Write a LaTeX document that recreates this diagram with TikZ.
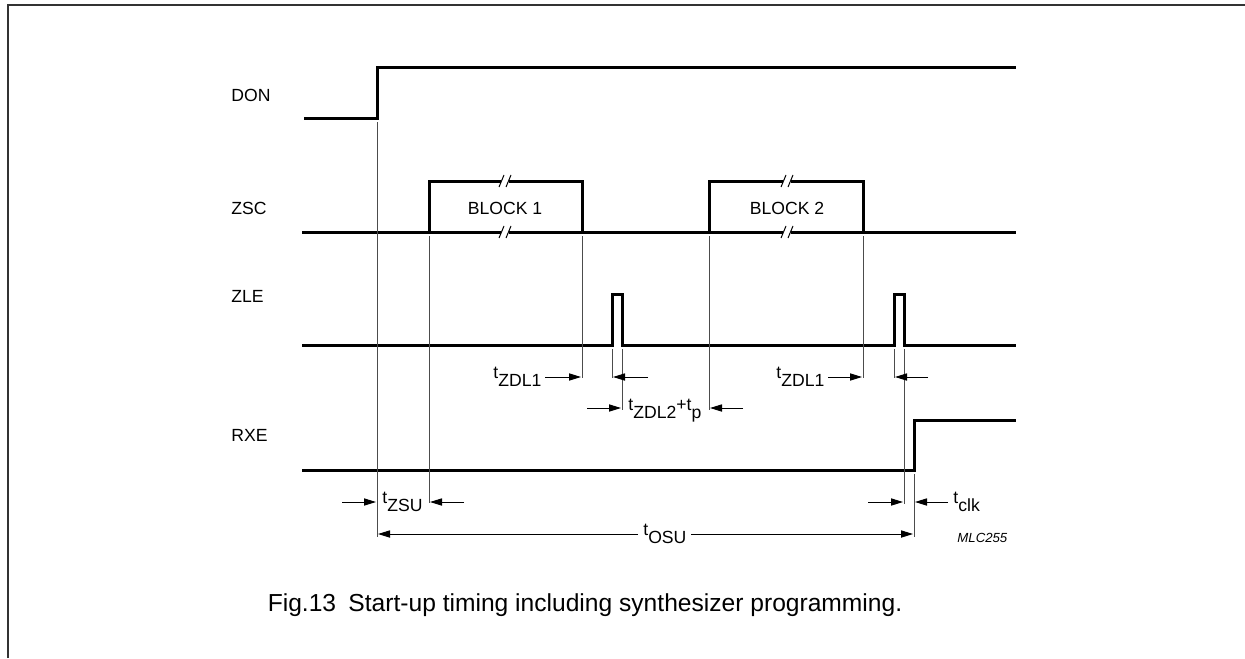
\documentclass[tikz,border=0pt]{standalone}
\usepackage{fontspec}
\setmainfont{Liberation Sans}
\usetikzlibrary{arrows.meta}
\tikzset{
  sig/.style={line width=1.5pt,line join=miter},
  guide/.style={line width=0.5pt,black!70},
  dimarrow/.style={line width=0.5pt,-{Triangle[length=6pt,width=3.6pt]}},
  lbl/.style={font=\fontsize{8.8}{10}\selectfont,inner sep=0pt},
}
\newcommand{\tsym}[1]{t\raisebox{-0.5em}{#1}}
\newcommand{\brk}[2]{%
  \fill[white] (#1-4,#2-1.6) rectangle (#1+4,#2+1.6);
  \draw[line width=0.5pt] (#1-6,#2+6) -- (#1-1,#2-6) (#1+1,#2+6) -- (#1+6,#2-6);}
\begin{document}
\begin{tikzpicture}[x=0.5pt,y=-0.5pt]
\useasboundingbox (0,0) rectangle (1245,658);
\draw[line width=1pt,black!80] (8,658) -- (8,5) -- (1245,5);
% signal names
\node[lbl,anchor=west] (nDON) at (231,95) {DON};
\node[lbl,anchor=west] (nZSC) at (231,208) {ZSC};
\node[lbl,anchor=west] (nZLE) at (231,296) {ZLE};
\node[lbl,anchor=west] (nRXE) at (231,435) {RXE};
% waveforms
\draw[sig] (304,118) -- (377,118) -- (377,68) -- (1016,68);
\draw[sig] (302,232) -- (1016,232);
\draw[sig] (429,232) -- (429,181) -- (582,181) -- (582,232);
\draw[sig] (709,232) -- (709,181) -- (863,181) -- (863,232);
\brk{505}{181} \brk{505}{232} \brk{787}{181} \brk{787}{232}
\node[lbl] (blk1) at (505,208) {BLOCK 1};
\node[lbl] (blk2) at (787,208) {BLOCK 2};
\draw[sig] (302,345) -- (612,345) -- (612,294) -- (622,294) -- (622,345)
 -- (894,345) -- (894,294) -- (904,294) -- (904,345) -- (1016,345);
\draw[sig] (302,470) -- (914,470) -- (914,420) -- (1016,420);
% edge guides
\draw[guide] (377,122) -- (377,537);
\draw[guide] (429,236) -- (429,503);
\draw[guide] (582,236) -- (582,378);
\draw[guide] (709,236) -- (709,410);
\draw[guide] (863,236) -- (863,378);
\draw[guide] (612,349) -- (612,378);
\draw[guide] (622,349) -- (622,410);
\draw[guide] (894,349) -- (894,378);
\draw[guide] (904,349) -- (904,504);
\draw[guide] (914,474) -- (914,537);
% timing labels
\node[lbl,anchor=base west] (tzsu) at (382,503) {\tsym{ZSU}};
\node[lbl,anchor=base west] (tosu) at (643,535) {\tsym{OSU}};
\node[lbl,anchor=base west] (tzdlA) at (493,378) {\tsym{ZDL1}};
\node[lbl,anchor=base west] (tzdlB) at (628,410) {\tsym{ZDL2}+\tsym{p}};
\node[lbl,anchor=base west] (tzdlC) at (776,378) {\tsym{ZDL1}};
\node[lbl,anchor=base west] (tclk) at (953,503) {\tsym{clk}};
\node[font=\fontsize{6.6}{8}\selectfont\itshape,anchor=west,inner sep=0pt] (code) at (957,538) {MLC255};
% arrow ends
\coordinate (zsuL) at (342,502); \coordinate (zsuLe) at (376,502);
\coordinate (zsuR) at (464,502); \coordinate (zsuRe) at (430,502);
\coordinate (osuL) at (638,534); \coordinate (osuLe) at (378,534);
\coordinate (osuR) at (691,534); \coordinate (osuRe) at (913,534);
\coordinate (aA) at (545,377); \coordinate (aAe) at (581,377);
\coordinate (aB) at (648,377); \coordinate (aBe) at (613,377);
\coordinate (aC) at (587,408); \coordinate (aCe) at (621,408);
\coordinate (aD) at (743,408); \coordinate (aDe) at (710,408);
\coordinate (aE) at (828,377); \coordinate (aEe) at (862,377);
\coordinate (aF) at (928,377); \coordinate (aFe) at (895,377);
\coordinate (aG) at (868,502); \coordinate (aGe) at (903,502);
\coordinate (aH) at (948,502); \coordinate (aHe) at (915,502);
\foreach \s/\e in {zsuL/zsuLe,zsuR/zsuRe,osuL/osuLe,osuR/osuRe,aA/aAe,aB/aBe,aC/aCe,aD/aDe,aE/aEe,aF/aFe,aG/aGe,aH/aHe}
  \draw[dimarrow] (\s) -- (\e);
% caption
\node[font=\fontsize{12.3}{14}\selectfont,inner sep=0pt] (cap) at (585,605)
 {Fig.13\hspace{0.5em}Start-up timing including synthesizer programming.};
\end{tikzpicture}
\end{document}
